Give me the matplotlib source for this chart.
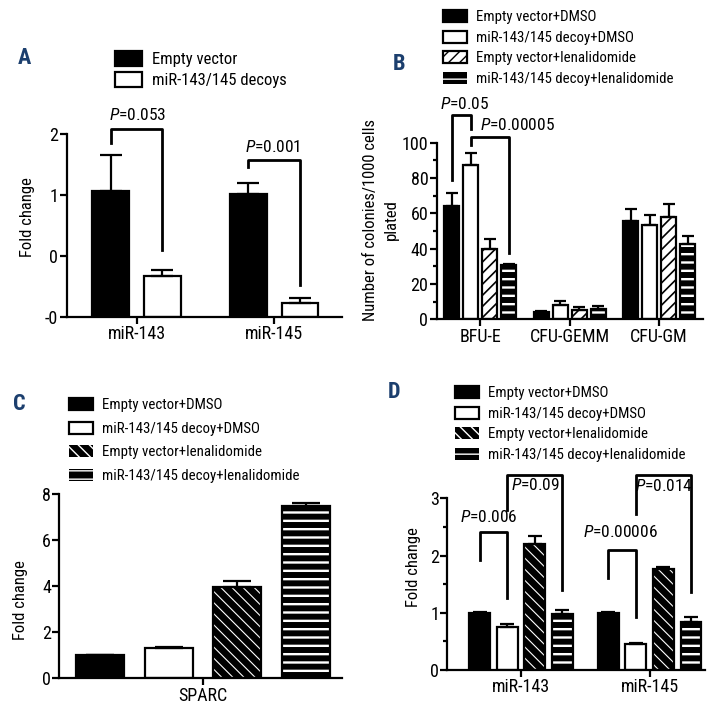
import numpy as np
import matplotlib
matplotlib.use('Agg')
import matplotlib.pyplot as plt
from matplotlib import font_manager
import matplotlib.patches as mpatches

# ---------------- data ----------------
# panel A (values in displayed tick units, axis bottom is the "-0" tick)
a_genes = ['miR-143', 'miR-145']
a_empty = [1.06, 1.01]
a_empty_err = [0.59, 0.18]
a_decoy = [-0.33, -0.78]
a_decoy_err = [0.10, 0.09]
a_ticks = [-1, 0, 1, 2]
a_tick_labels = ['-0', '0', '1', '2']
a_labels = ['Empty vector', 'miR-143/145 decoys']
a_pvals = ['0.053', '0.001']

# panel B
b_types = ['BFU-E', 'CFU-GEMM', 'CFU-GM']
b_vals = [[64.0, 4.3, 55.8],
          [87.4, 8.1, 53.4],
          [39.6, 5.3, 57.7],
          [30.5, 5.7, 42.5]]
b_errs = [[7.7, 0.6, 6.7],
          [6.9, 2.4, 5.5],
          [5.7, 1.5, 7.6],
          [0.6, 1.8, 4.7]]
b_pvals = ['0.05', '0.00005']

# panel C
c_gene = ['SPARC']
c_vals = [1.0, 1.30, 3.95, 7.46]
c_errs = [0.02, 0.08, 0.28, 0.13]

# panel D
d_genes = ['miR-143', 'miR-145']
d_vals = [[1.0, 1.0],
          [0.76, 0.46],
          [2.21, 1.77],
          [0.97, 0.84]]
d_errs = [[0.01, 0.01],
          [0.04, 0.02],
          [0.13, 0.03],
          [0.08, 0.09]]
d_pvals = ['0.006', '0.09', '0.00006', '0.014']

group_labels = ['Empty vector+DMSO', 'miR-143/145 decoy+DMSO',
                'Empty vector+lenalidomide', 'miR-143/145 decoy+lenalidomide']

# ---------------- style ----------------
W, H = 722, 704
NAVY = '#1c3f6e'
LW = 1.6


def pick_font(names):
    for n in names:
        try:
            font_manager.findfont(n, fallback_to_default=False)
            return n
        except ValueError:
            pass
    return 'DejaVu Sans'


FONT = pick_font(['Liberation Sans Narrow', 'Roboto Condensed', 'Liberation Sans', 'DejaVu Sans'])
plt.rcParams['font.family'] = [FONT, 'DejaVu Sans']
plt.rcParams['mathtext.fontset'] = 'custom'
plt.rcParams['mathtext.rm'] = FONT
plt.rcParams['mathtext.it'] = FONT + ':italic'
plt.rcParams['hatch.linewidth'] = 1.0

# text sizes (condensed face)
TICK_FS = 13
YLAB_FS = 12
LEG_FS = 10.7
LEG_A_FS = 12
P_FS = 12.5


def frac(x0, y_top, x1, y_bot):
    return [x0 / W, 1 - y_bot / H, (x1 - x0) / W, (y_bot - y_top) / H]


def style_axes(ax):
    for s in ['top', 'right']:
        ax.spines[s].set_visible(False)
    for s in ['left', 'bottom']:
        ax.spines[s].set_linewidth(LW)
    ax.tick_params(which='major', width=LW, length=5, labelsize=TICK_FS, direction='out', pad=1)
    ax.tick_params(which='minor', width=LW, length=3)


STYLES = {
    'black': dict(color='black', edgecolor='black', linewidth=LW),
    'white': dict(color='white', edgecolor='black', linewidth=LW),
    'diag_w': dict(color='black', edgecolor='white', hatch='\\\\\\', linewidth=0),
    'diag_b': dict(color='white', edgecolor='black', hatch='///', linewidth=LW),
    'horiz': dict(color='black', edgecolor='white', hatch='--', linewidth=0),
}
HATCH_LW = {'diag_w': 0.8, 'diag_b': 1.2, 'horiz': 1.7}


def set_hlw(patches, style):
    if style in HATCH_LW:
        for p in patches:
            if hasattr(p, 'set_hatch_linewidth'):
                p.set_hatch_linewidth(HATCH_LW[style])


def draw_bars(ax, x, vals, errs, style, width, cap, bottom=0.0):
    vals = np.asarray(vals, dtype=float)
    kw = STYLES[style]
    with plt.rc_context({'hatch.linewidth': HATCH_LW.get(style, 1.0)}):
        bars = ax.bar(x, vals - bottom, width, bottom=bottom, **kw)
    set_hlw(bars, style)
    if kw['linewidth'] == 0:
        ax.bar(x, vals - bottom, width, bottom=bottom, fill=False, edgecolor='black', linewidth=LW)
    ax.errorbar(x, vals, yerr=[np.zeros(len(vals)), errs], fmt='none', ecolor='black',
                elinewidth=LW, capsize=cap, capthick=LW)


def handle(style):
    kw = dict(STYLES[style])
    with plt.rc_context({'hatch.linewidth': HATCH_LW.get(style, 1.0)}):
        p = mpatches.Patch(facecolor=kw.pop('color'), **kw)
    set_hlw([p], style)
    return p


def bracket(ax, x1, x2, y1, ytop, y2, text, tx, ty):
    ax.plot([x1, x1, x2, x2], [y1, ytop, ytop, y2], color='black', lw=2.0, clip_on=False)
    ax.text(tx, ty, text, ha='center', va='center', fontsize=P_FS)


def legend(ax, styles, labels, x_px, y_px, fs, spacing, hh=0.9, hl=1.6):
    ax.legend([handle(s) for s in styles], labels, loc='upper left',
              bbox_to_anchor=(x_px / W, 1 - y_px / H), bbox_transform=fig.transFigure,
              frameon=False, fontsize=fs, handlelength=hl, handleheight=hh,
              handletextpad=0.6, labelspacing=spacing, borderpad=0, borderaxespad=0)


def letter(x_px, y_px, s):
    fig.text(x_px / W, 1 - y_px / H, s, color=NAVY, fontsize=16, fontweight='bold',
             ha='center', va='center')


def ptxt(p):
    return '$\\mathit{P}$=' + p


fig = plt.figure(figsize=(W / 100, H / 100), dpi=100)

# ---------------- panel A ----------------
ax = fig.add_axes(frac(66.7, 134, 341.7, 316.7))
style_axes(ax)
xa = np.arange(len(a_genes))
wa, oa = 0.267, 0.1875
draw_bars(ax, xa - oa, a_empty, a_empty_err, 'black', wa, 8, bottom=-1)
draw_bars(ax, xa + oa, a_decoy, a_decoy_err, 'white', wa, 8, bottom=-1)
ax.set_xlim(-0.507, 1.49)
ax.set_ylim(-1, 2)
ax.set_yticks(a_ticks)
ax.set_yticklabels(a_tick_labels)
ax.set_xticks(xa)
ax.set_xticklabels(a_genes)
ax.set_ylabel('Fold change', fontsize=YLAB_FS, va='center')
ax.yaxis.set_label_coords(-0.141, 0.547)
bracket(ax, -oa, oa, 1.85, 2.09, 0.10, ptxt(a_pvals[0]), 0.01, 2.31)
bracket(ax, 1 - oa, 1 + oa, 1.46, 1.57, -0.48, ptxt(a_pvals[1]), 0.99, 1.78)
legend(ax, ['black', 'white'], a_labels, 115, 51, LEG_A_FS, 0.25, hh=1.05, hl=1.6)
letter(24, 58, 'A')

# ---------------- panel B ----------------
ax = fig.add_axes(frac(436.7, 142.7, 703, 319.3))
style_axes(ax)
xb = np.arange(len(b_types))
wb, sb = 0.168, 0.212
b_styles = ['black', 'white', 'diag_b', 'horiz']
for i, st in enumerate(b_styles):
    draw_bars(ax, xb + (i - 1.5) * sb, b_vals[i], b_errs[i], st, wb, 4)
ax.set_xlim(-0.484, 2.49)
ax.set_ylim(0, 100)
ax.set_yticks(np.arange(0, 101, 20))
ax.set_yticks(np.arange(0, 101, 10), minor=True)
ax.set_xticks(xb)
ax.set_xticklabels(b_types)
ax.set_ylabel('Number of colonies/1000 cells\nplated', fontsize=YLAB_FS, va='center', linespacing=1.5)
ax.yaxis.set_label_coords(-0.209, 0.562)
bracket(ax, -1.5 * sb, -0.5 * sb, 79, 115.7, 107.6, ptxt(b_pvals[0]), -0.17, 121.8)
bracket(ax, -0.5 * sb, 1.5 * sb, 98.7, 103.4, 37.4, ptxt(b_pvals[1]), 0.42, 110.3)
legend(ax, b_styles, group_labels, 443, 10, LEG_FS, 0.42)
letter(399, 64, 'B')

# ---------------- panel C ----------------
ax = fig.add_axes(frac(59.3, 494, 341.7, 678.3))
style_axes(ax)
c_styles = ['black', 'white', 'diag_w', 'horiz']
xc = np.arange(len(c_vals)) - 1.5
for i, st in enumerate(c_styles):
    draw_bars(ax, [xc[i]], [c_vals[i]], [c_errs[i]], st, 0.7, 10)
ax.set_xlim(-2.09, 2.02)
ax.set_ylim(0, 8)
ax.set_yticks(np.arange(0, 9, 2))
ax.set_xticks([0])
ax.set_xticklabels(c_gene)
ax.set_ylabel('Fold change', fontsize=YLAB_FS, va='center')
ax.yaxis.set_label_coords(-0.139, 0.425)
legend(ax, c_styles, group_labels, 69, 398, LEG_FS, 0.62)
letter(19, 404, 'C')

# ---------------- panel D ----------------
ax = fig.add_axes(frac(447.3, 498.3, 705, 670))
style_axes(ax)
xd = np.arange(len(d_genes))
wd, sd = 0.163, 0.214
for i, st in enumerate(c_styles):
    draw_bars(ax, xd + (i - 1.5) * sd, d_vals[i], d_errs[i], st, wd, 5)
ax.set_xlim(-0.574, 1.43)
ax.set_ylim(0, 3)
ax.set_yticks([0, 1, 2, 3])
ax.set_yticks(np.arange(0, 3.01, 0.5), minor=True)
ax.set_xticks(xd)
ax.set_xticklabels(d_genes)
ax.set_ylabel('Fold change', fontsize=YLAB_FS, va='center')
ax.yaxis.set_label_coords(-0.133, 0.60)
bracket(ax, -1.5 * sd, -0.5 * sd, 1.92, 2.41, 1.25, ptxt(d_pvals[0]), -0.25, 2.67)
bracket(ax, -0.5 * sd, 1.5 * sd, 2.79, 3.41, 1.40, ptxt(d_pvals[1]), 0.11, 3.23)
bracket(ax, 1 - 1.5 * sd, 1 - 0.5 * sd, 1.60, 2.09, 0.93, ptxt(d_pvals[2]), 0.77, 2.41)
bracket(ax, 1 - 0.5 * sd, 1 + 1.5 * sd, 2.72, 3.40, 1.37, ptxt(d_pvals[3]), 1.115, 3.21)
legend(ax, c_styles, group_labels, 455, 386, LEG_FS, 0.42)
letter(394, 392, 'D')

fig.savefig('out.png', dpi=100)
